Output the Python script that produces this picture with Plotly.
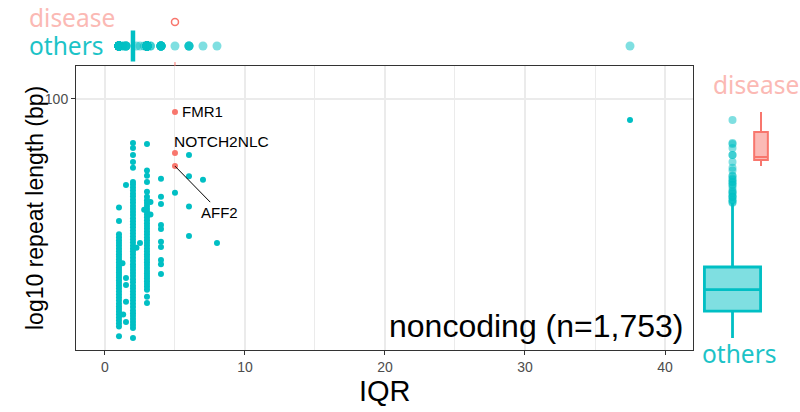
import numpy as np
import plotly.graph_objects as go

# ---------------- data ----------------
# "others" repeats: repeat length (bp) grouped by IQR value
len_iqr1 = [14.6, 15.8, 16.2, 16.6, 17.0, 17.4, 17.8, 18.2, 18.6, 19.0, 19.5, 20.0, 20.5, 21.0,
            21.5, 22.0, 22.5, 23.0, 23.5, 24.0, 24.5, 25.0, 25.5, 26.0, 26.6, 27.2, 27.8, 28.4,
            29.0, 29.7, 30.4, 31.1, 31.8, 32.6, 33.4, 37.2, 41.5]
len_iqr2 = [14.4, 15.6, 16.0, 16.4, 16.8, 17.2, 17.6, 18.0, 18.5, 19.0, 19.5, 20.0, 20.5, 21.0,
            21.5, 22.0, 22.6, 23.2, 23.8, 24.4, 25.0, 25.6, 26.2, 26.9, 27.6, 28.3, 29.0, 29.7,
            30.4, 31.2, 32.0, 32.8, 33.6, 34.4, 35.3, 36.2, 37.1, 38.0, 39.0, 40.0, 41.0, 42.0,
            43.1, 44.2, 45.3, 46.4, 47.6, 48.8, 50.0, 51.0, 57.2, 60.0, 63.5, 67.2, 70.0]
len_iqr3 = [19.1, 20.1, 21.3, 21.8, 22.3, 22.8, 23.3, 23.8, 24.3, 24.8, 25.4, 26.0, 26.6, 27.2,
            27.8, 28.4, 29.0, 29.7, 30.4, 31.1, 31.8, 32.5, 33.3, 34.1, 34.9, 35.7, 36.5, 37.4,
            38.3, 39.2, 40.1, 41.0, 42.0, 43.0, 44.0, 45.2, 47.1, 51.0, 53.6, 56.0, 69.4]
len_iqr4 = [52.3, 45.2, 42.7, 36.0, 34.8, 31.4, 30.1, 27.1, 26.2, 24.2]
len_iqr5 = [46.7]
len_iqr6 = [63.5, 53.4, 41.8, 32.9]
len_iqr7 = [51.9]
len_iqr8 = [31.1]
len_iqr37_5 = [84.3]
column_iqr = [1.0, 2.0, 3.0, 4.0, 5.0, 6.0, 7.0, 8.0, 37.5]
column_len = [len_iqr1, len_iqr2, len_iqr3, len_iqr4, len_iqr5, len_iqr6, len_iqr7, len_iqr8, len_iqr37_5]

extra_iqr = [1.5, 1.25, 1.5, 1.5, 1.5, 1.3, 1.5, 2.5, 2.25, 2.8, 3.25, 3.25]
extra_len = [49.8, 26.4, 23.4, 22.1, 19.3, 17.4, 16.4, 31.1, 29.9, 40.7, 43.4, 39.2]

# disease repeats
disease_genes = ["FMR1", "NOTCH2NLC", "AFF2"]
disease_iqr = [5.0, 5.0, 5.0]
disease_len = [90.0, 64.5, 58.0]

# marginal box statistics
groups = ["others", "disease"]
len_box = {"others": [14.4, 17.9, 21.3, 25.6, 43.0],   # lowerfence, q1, median, q3, upperfence
           "disease": [58.0, 61.0, 62.5, 76.5, 90.0]}
iqr_box = {"others": [2.0, 2.0, 2.0, 2.0, 2.0],
           "disease": [5.0, 5.0, 5.0, 5.0, 5.0]}

x_ticks = [0, 10, 20, 30, 40]
y_ticks = [100]
panel_text = "noncoding (n=1,753)"

# ---------------- build ----------------
others_iqr = []
others_len = []
for xv, ys in zip(column_iqr, column_len):
    others_iqr += [xv] * len(ys)
    others_len += ys
others_iqr += extra_iqr
others_len += extra_len
others_iqr = np.array(others_iqr)
others_len = np.array(others_len)

TEAL = "#00BFC4"
RED = "#F8766D"
TEAL_A = "rgba(0,191,196,0.5)"
RED_A = "rgba(248,118,109,0.5)"

W, H = 800, 412
def fx(px): return px / W
def fy(py): return 1 - py / H

fig = go.Figure()

# main scatter
fig.add_trace(go.Scatter(x=others_iqr, y=others_len, mode="markers",
                         marker=dict(color=TEAL, size=6, line=dict(width=0)),
                         xaxis="x", yaxis="y", showlegend=False))
fig.add_trace(go.Scatter(x=disease_iqr, y=disease_len, mode="markers",
                         marker=dict(color=RED, size=6, line=dict(width=0)),
                         xaxis="x", yaxis="y", showlegend=False))

gpos = {g: i for i, g in enumerate(groups)}

# top marginal (IQR)
s = iqr_box["others"]
fig.add_trace(go.Box(orientation="h", y=[gpos["others"]], lowerfence=[s[0]], q1=[s[1]],
                     median=[s[2]], q3=[s[3]], upperfence=[s[4]], width=1.3,
                     line=dict(color=TEAL, width=4.5), fillcolor=TEAL_A, whiskerwidth=0,
                     boxpoints=False, xaxis="x2", yaxis="y2", showlegend=False))
out_top = others_iqr[(others_iqr < s[0]) | (others_iqr > s[4])]
fig.add_trace(go.Scatter(x=out_top, y=[gpos["others"]] * len(out_top), mode="markers",
                         marker=dict(color=TEAL_A, size=9, line=dict(width=0)),
                         xaxis="x2", yaxis="y2", showlegend=False))
d = iqr_box["disease"]
fig.add_trace(go.Scatter(x=[d[2]], y=[gpos["disease"]], mode="markers",
                         marker=dict(symbol="circle-open", color=RED, size=7, line=dict(width=1.5)),
                         xaxis="x2", yaxis="y2", showlegend=False))
fig.add_trace(go.Scatter(x=[d[2], d[2]], y=[gpos["others"] - 0.67, gpos["others"] - 0.84], mode="lines",
                         line=dict(color=RED, width=1), xaxis="x2", yaxis="y2", showlegend=False))

# right marginal (length)
s = len_box["others"]
fig.add_trace(go.Box(x=[gpos["others"]], lowerfence=[s[0]], q1=[s[1]], median=[s[2]],
                     q3=[s[3]], upperfence=[s[4]], width=1.97,
                     line=dict(color=TEAL, width=2.8), fillcolor="rgba(0,191,196,0.5)",
                     whiskerwidth=0, boxpoints=False, xaxis="x3", yaxis="y3", showlegend=False))
out_r = others_len[others_len > s[4]]
fig.add_trace(go.Scatter(x=[gpos["others"]] * len(out_r), y=out_r, mode="markers",
                         marker=dict(color=TEAL_A, size=8, line=dict(width=0)),
                         xaxis="x3", yaxis="y3", showlegend=False))
s = len_box["disease"]
fig.add_trace(go.Box(x=[gpos["disease"]], lowerfence=[s[0]], q1=[s[1]], median=[s[2]],
                     q3=[s[3]], upperfence=[s[4]], width=0.48,
                     line=dict(color=RED, width=2), fillcolor=RED_A,
                     whiskerwidth=0, boxpoints=False, xaxis="x3", yaxis="y3", showlegend=False))

yr = [np.log10(13.06), np.log10(130.6)]
xr = [-2.07, 42.0]

fig.update_layout(
    width=W, height=H, margin=dict(l=0, r=0, t=0, b=0),
    paper_bgcolor="white", plot_bgcolor="white", boxmode="overlay",
    font=dict(family="Liberation Sans, Arial, sans-serif", color="black"),
    xaxis=dict(domain=[fx(76), fx(693)], range=xr, tickvals=x_ticks,
               showgrid=True, gridcolor="#EBEBEB", gridwidth=1.6, zeroline=False,
               minor=dict(tickvals=[5, 15, 25, 35], showgrid=True, gridcolor="#EBEBEB", gridwidth=0.8),
               showline=True, mirror=True, linecolor="#333333", linewidth=1,
               ticks="outside", ticklen=4, tickcolor="#333333",
               tickfont=dict(size=14, color="#4D4D4D"), anchor="y"),
    yaxis=dict(domain=[fy(350), fy(66)], type="log", range=yr, tickvals=y_ticks,
               ticktext=[str(v) for v in y_ticks],
               showgrid=True, gridcolor="#EBEBEB", gridwidth=1.6, zeroline=False,
               showline=True, mirror=True, linecolor="#333333", linewidth=1,
               ticks="outside", ticklen=4, tickcolor="#333333",
               tickfont=dict(size=14, color="#4D4D4D"), anchor="x"),
    xaxis2=dict(domain=[fx(76), fx(693)], range=xr, visible=False, anchor="y2"),
    yaxis2=dict(domain=[fy(66), 1], range=[-0.833, 1.917], visible=False, anchor="x2"),
    xaxis3=dict(domain=[fx(693), 1], range=[-1.386, 2.368], visible=False, anchor="y3"),
    yaxis3=dict(domain=[fy(350), fy(66)], type="log", range=yr, visible=False, anchor="x3"),
)

ann = []
# axis titles
ann.append(dict(text="IQR", x=fx(385), y=fy(391), xref="paper", yref="paper",
                showarrow=False, font=dict(size=29), xanchor="center", yanchor="middle"))
ann.append(dict(text="log10 repeat length (bp)", x=fx(35), y=fy(208), xref="paper", yref="paper",
                showarrow=False, font=dict(size=23), textangle=-90, xanchor="center", yanchor="middle"))
# panel text
ann.append(dict(text=panel_text, x=fx(685), y=fy(326), xref="paper", yref="paper",
                showarrow=False, font=dict(size=32), xanchor="right", yanchor="middle"))
# gene labels
ann.append(dict(text=disease_genes[0], x=disease_iqr[0], y=np.log10(disease_len[0]), xref="x", yref="y",
                showarrow=False, xanchor="left", yanchor="middle", xshift=5, font=dict(size=15)))
ann.append(dict(text=disease_genes[1], x=disease_iqr[1], y=np.log10(disease_len[1]), xref="x", yref="y",
                showarrow=False, xanchor="left", yanchor="middle", xshift=-3, yshift=12, font=dict(size=15.5)))
ann.append(dict(text=disease_genes[2], x=disease_iqr[2], y=np.log10(disease_len[2]), xref="x", yref="y",
                showarrow=True, arrowhead=0, arrowwidth=1, arrowcolor="black", ax=45, ay=46,
                standoff=0, font=dict(size=15)))
# marginal group labels
lab_font = "Noto Sans, Open Sans, sans-serif"
ann.append(dict(text="disease", x=fx(27), y=fy(18), xref="paper", yref="paper", showarrow=False,
                xanchor="left", yanchor="middle", font=dict(size=24.5, color="#FBB9B4", family=lab_font)))
ann.append(dict(text="others", x=fx(27), y=fy(46), xref="paper", yref="paper", showarrow=False,
                xanchor="left", yanchor="middle", font=dict(size=24.5, color="#1CC3C7", family=lab_font)))
ann.append(dict(text="disease", x=fx(711), y=fy(84), xref="paper", yref="paper", showarrow=False,
                xanchor="left", yanchor="middle", font=dict(size=24.5, color="#FBB9B4", family=lab_font)))
ann.append(dict(text="others", x=fx(700), y=fy(353), xref="paper", yref="paper", showarrow=False,
                xanchor="left", yanchor="middle", font=dict(size=24.5, color="#1CC3C7", family=lab_font)))
fig.update_layout(annotations=ann)

fig.write_html("out.html")
